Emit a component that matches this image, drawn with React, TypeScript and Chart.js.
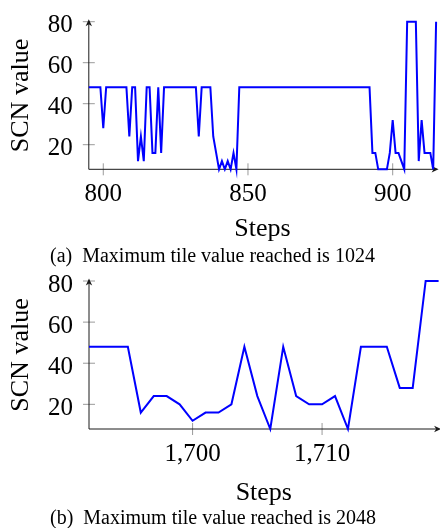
import React, { useEffect, useRef } from "react";
import { Chart, registerables } from "chart.js";

Chart.register(...registerables);

// ---------- Data: panel (a) ----------
const stepStartA = 795;
const scnA = [
  48, 48, 48, 48, 48, // 795-799
  28, 48, 48, 48, 48, 48, 48, 48, 48, 24, // 800-809
  48, 48, 12, 24, 12, 48, 48, 16, 16, 48, // 810-819
  16, 48, 48, 48, 48, 48, 48, 48, 48, 48, // 820-829
  48, 48, 48, 24, 48, 48, 48, 48, 24, 16, // 830-839
  8, 12, 8, 12, 8, 16, 8, 48, 48, 48, // 840-849
  48, 48, 48, 48, 48, 48, 48, 48, 48, 48, // 850-859
  48, 48, 48, 48, 48, 48, 48, 48, 48, 48, // 860-869
  48, 48, 48, 48, 48, 48, 48, 48, 48, 48, // 870-879
  48, 48, 48, 48, 48, 48, 48, 48, 48, 48, // 880-889
  48, 48, 48, 16, 16, 8, 8, 8, 8, 16, // 890-899
  32, 16, 16, 12, 8, 80, 80, 80, 80, 12, // 900-909
  32, 16, 16, 16, 8, 80, // 910-915
];
const stepsA = scnA.map((_, i) => stepStartA + i);
const xTicksA = [800, 850, 900];
const xTickLabelsA = ["800", "850", "900"];

// ---------- Data: panel (b) ----------
const stepStartB = 1692;
const scnB = [
  48, 48, 48, 48, 16, 24, 24, 20, // 1692-1699
  12, 16, 16, 20, 48, 24, 8, 48, 24, 20, // 1700-1709
  20, 24, 8, 48, 48, 48, 28, 28, 80, 80, // 1710-1719
];
const stepsB = scnB.map((_, i) => stepStartB + i);
const xTicksB = [1700, 1710];
const xTickLabelsB = ["1,700", "1,710"];

const yTicks = [20, 40, 60, 80];
const yTickLabels = ["20", "40", "60", "80"];

const captionA = "Maximum tile value reached is 1024";
const captionB = "Maximum tile value reached is 2048";

const SERIF = "'Liberation Serif', 'Times New Roman', serif";

function makeAxesPlugin(xt: number[], yt: number[]) {
  return {
    id: "pgfAxes",
    beforeDatasetsDraw(chart: any) {
      const { ctx, chartArea: a, scales } = chart;
      const x = scales.x;
      const y = scales.y;
      const line = (x1: number, y1: number, x2: number, y2: number) => {
        ctx.beginPath();
        ctx.moveTo(x1, y1);
        ctx.lineTo(x2, y2);
        ctx.stroke();
      };
      ctx.save();
      ctx.lineWidth = 1;
      ctx.strokeStyle = "#9a9a9a";
      for (const v of yt) {
        const py = y.getPixelForValue(v);
        line(a.left - 6, py, a.left + 6, py);
      }
      for (const v of xt) {
        const px = x.getPixelForValue(v);
        line(px, a.bottom - 6, px, a.bottom + 6);
      }
      ctx.strokeStyle = "#1a1a1a";
      const ext = 2.5;
      line(a.left, a.bottom, a.right + ext - 2, a.bottom);
      line(a.left, a.bottom, a.left, a.top - ext + 2);
      ctx.fillStyle = "#1a1a1a";
      const tx = a.right + ext;
      ctx.beginPath();
      ctx.moveTo(tx, a.bottom);
      ctx.lineTo(tx - 7, a.bottom - 3.2);
      ctx.lineTo(tx - 5, a.bottom);
      ctx.lineTo(tx - 7, a.bottom + 3.2);
      ctx.closePath();
      ctx.fill();
      const ty = a.top - ext;
      ctx.beginPath();
      ctx.moveTo(a.left, ty);
      ctx.lineTo(a.left - 3.2, ty + 7);
      ctx.lineTo(a.left, ty + 5);
      ctx.lineTo(a.left + 3.2, ty + 7);
      ctx.closePath();
      ctx.fill();
      ctx.restore();
    },
  };
}

type PanelProps = {
  steps: number[];
  values: number[];
  xMin: number;
  xMax: number;
  xTicks: number[];
  xTickLabels: string[];
  top: number;
  height: number;
  padTop: number;
  padRight: number;
  yWidth: number;
  xHeight: number;
};

function Panel(p: PanelProps) {
  const ref = useRef<HTMLCanvasElement | null>(null);
  useEffect(() => {
    if (!ref.current) return;
    const chart = new Chart(ref.current, {
      type: "line",
      data: {
        datasets: [
          {
            data: p.steps.map((s, i) => ({ x: s, y: p.values[i] })),
            borderColor: "#0000ff",
            borderWidth: 2,
            pointRadius: 0,
            tension: 0,
            fill: false,
            clip: false as any,
            borderJoinStyle: "miter",
          },
        ],
      },
      options: {
        animation: false,
        responsive: false,
        events: [],
        layout: { padding: { top: p.padTop, right: p.padRight, left: 0, bottom: 0 } },
        plugins: { legend: { display: false }, tooltip: { enabled: false } },
        scales: {
          x: {
            type: "linear",
            min: p.xMin,
            max: p.xMax,
            grid: { display: false, drawTicks: false },
            border: { display: false },
            ticks: {
              color: "#000",
              font: { family: SERIF, size: 25 },
              padding: 10,
              maxRotation: 0,
              autoSkip: false,
              callback: (_v: any, i: number) => p.xTickLabels[i],
            },
            afterBuildTicks: (s: any) => {
              s.ticks = p.xTicks.map((v) => ({ value: v }));
            },
            afterFit: (s: any) => {
              s.height = p.xHeight;
              s.paddingLeft = 0;
              s.paddingRight = 0;
              s.paddingTop = 0;
              s.paddingBottom = 0;
            },
            title: {
              display: true,
              text: "Steps",
              color: "#000",
              font: { family: SERIF, size: 26 },
              padding: { top: 0, bottom: 0 },
            },
          },
          y: {
            type: "linear",
            min: 8,
            max: 80,
            grid: { display: false, drawTicks: false },
            border: { display: false },
            ticks: {
              color: "#000",
              font: { family: SERIF, size: 25 },
              padding: 16,
              labelOffset: 4,
              callback: (_v: any, i: number) => yTickLabels[i],
            },
            afterBuildTicks: (s: any) => {
              s.ticks = yTicks.map((v) => ({ value: v }));
            },
            afterFit: (s: any) => {
              s.width = p.yWidth;
              s.paddingLeft = 0;
              s.paddingRight = 0;
              s.paddingTop = 0;
              s.paddingBottom = 0;
            },
            title: {
              display: true,
              text: "SCN value",
              color: "#000",
              font: { family: SERIF, size: 26 },
              padding: { top: 6, bottom: 0 },
            },
          },
        },
      } as any,
      plugins: [makeAxesPlugin(p.xTicks, yTicks)],
    });
    return () => chart.destroy();
  }, []);
  return (
    <canvas
      ref={ref}
      width={440}
      height={p.height}
      style={{ position: "absolute", left: 0, top: p.top, width: 440, height: p.height }}
    />
  );
}

function Caption({ label, text, top }: { label: string; text: string; top: number }) {
  return (
    <div
      style={{
        position: "absolute",
        left: 50,
        top,
        fontFamily: SERIF,
        fontSize: 20,
        lineHeight: "20px",
        whiteSpace: "nowrap",
        color: "#000",
      }}
    >
      <span style={{ marginRight: 10 }}>{label}</span>
      {text}
    </div>
  );
}

export default function App() {
  return (
    <div
      style={{
        position: "absolute",
        left: 0,
        top: 0,
        width: 440,
        height: 528,
        background: "#fff",
        overflow: "hidden",
      }}
    >
      <Panel
        steps={stepsA}
        values={scnA}
        xMin={795}
        xMax={915}
        xTicks={xTicksA}
        xTickLabels={xTickLabelsA}
        top={0}
        height={245}
        padTop={21.7}
        padRight={3.9}
        yWidth={88.8}
        xHeight={75.7}
      />
      <Caption label="(a)" text={captionA} top={245} />
      <Panel
        steps={stepsB}
        values={scnB}
        xMin={1692}
        xMax={1719}
        xTicks={xTicksB}
        xTickLabels={xTickLabelsB}
        top={260}
        height={249}
        padTop={21}
        padRight={1.4}
        yWidth={89}
        xHeight={80}
      />
      <Caption label="(b)" text={captionB} top={507} />
    </div>
  );
}
